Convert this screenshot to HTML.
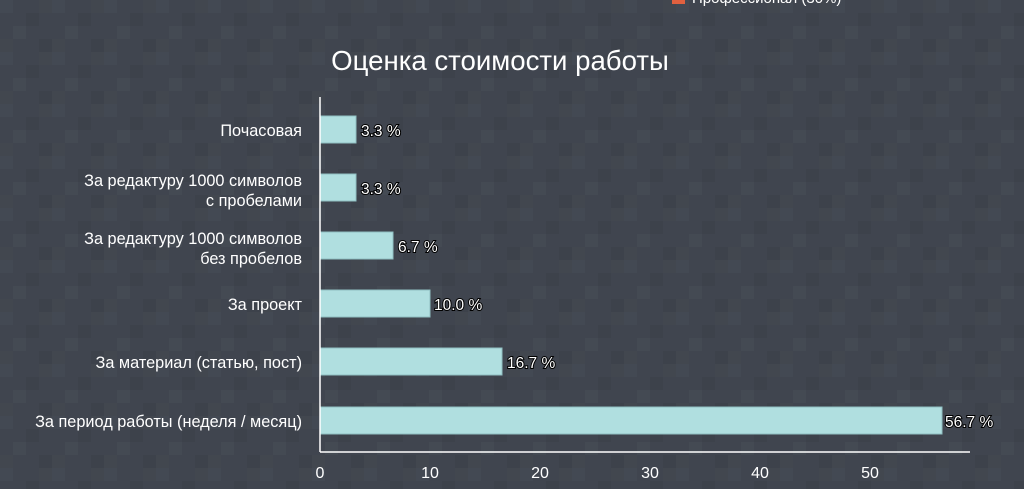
<!DOCTYPE html>
<html><head><meta charset="utf-8"><style>
html,body{margin:0;padding:0;background:#40454f;}
svg{display:block}
text{font-family:"Liberation Sans","DejaVu Sans",sans-serif;}
</style></head><body>
<svg width="1024" height="489" viewBox="0 0 1024 489" xmlns="http://www.w3.org/2000/svg">
<defs>
<pattern id="p" width="52" height="52" patternUnits="userSpaceOnUse">
<rect width="52" height="52" fill="#40454f"/>
<rect x="0" y="0" width="13" height="13" fill="#434953"/>
<rect x="26" y="13" width="13" height="13" fill="#3d424b"/>
<rect x="13" y="26" width="13" height="13" fill="#444a53"/>
<rect x="39" y="39" width="13" height="13" fill="#3d424b"/>
<rect x="39" y="0" width="13" height="13" fill="#42474f"/>
<rect x="0" y="39" width="13" height="13" fill="#42474f"/>
</pattern>
</defs>
<rect width="1024" height="489" fill="url(#p)"/>
<rect x="672" y="-7" width="13" height="11" fill="#e0603f"/>
<text x="692" y="3" fill="#fff" font-size="15">Профессионал (30%)</text>
<text x="500" y="70" fill="#fff" font-size="27.6" text-anchor="middle">Оценка стоимости работы</text>
<g fill="#b0dfe0" stroke="#8fbfc2" stroke-width="1">
<rect x="320" y="116" width="36" height="27"/>
<rect x="320" y="174" width="36" height="27"/>
<rect x="320" y="232" width="73" height="27"/>
<rect x="320" y="290" width="110" height="27"/>
<rect x="320" y="348" width="182" height="27"/>
<rect x="320" y="407" width="622" height="27"/>
</g>
<line x1="320" y1="97" x2="320" y2="452" stroke="#fff" stroke-width="1.5"/>
<line x1="320" y1="452" x2="970" y2="452" stroke="#fff" stroke-width="1.5"/>
<g fill="#fff" font-size="16.3" text-anchor="end">
<text x="302" y="136">Почасовая</text>
<text x="302" y="186">За редактуру 1000 символов</text>
<text x="302" y="206">с пробелами</text>
<text x="302" y="244">За редактуру 1000 символов</text>
<text x="302" y="264">без пробелов</text>
<text x="302" y="310">За проект</text>
<text x="302" y="368">За материал (статью, пост)</text>
<text x="302" y="427">За период работы (неделя / месяц)</text>
</g>
<g fill="#fff" font-size="15.5" stroke="#000" stroke-width="2" paint-order="stroke">
<text x="361" y="136">3.3 %</text>
<text x="361" y="194">3.3 %</text>
<text x="398" y="252">6.7 %</text>
<text x="434" y="310">10.0 %</text>
<text x="507" y="368">16.7 %</text>
<text x="945" y="427">56.7 %</text>
</g>
<g fill="#fff" font-size="16" text-anchor="middle">
<text x="320" y="478">0</text>
<text x="430" y="478">10</text>
<text x="540" y="478">20</text>
<text x="650" y="478">30</text>
<text x="760" y="478">40</text>
<text x="870" y="478">50</text>
</g>
</svg>
</body></html>
